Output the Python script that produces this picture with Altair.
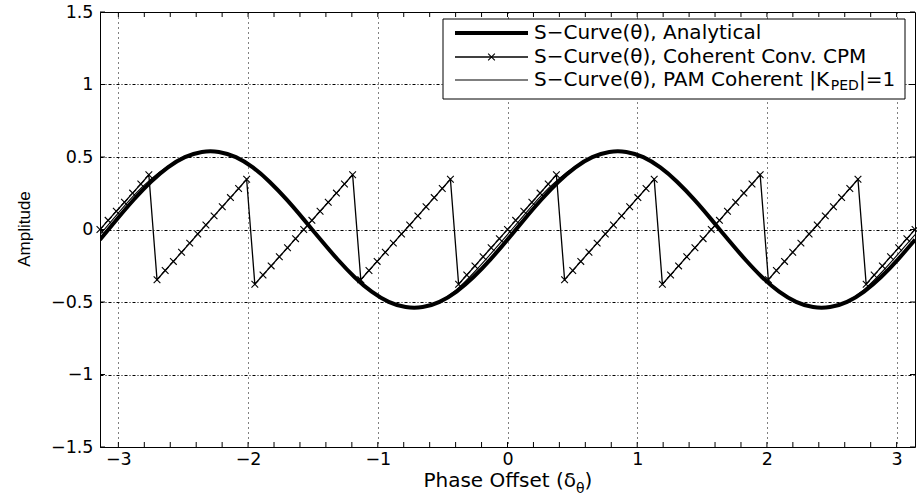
import altair as alt
import pandas as pd

# ---------------- data ----------------
ana_x = [-3.142, -3.011, -2.880, -2.749, -2.618, -2.487, -2.356, -2.225, -2.094, -1.963,
         -1.833, -1.702, -1.571, -1.440, -1.309, -1.178, -1.047, -0.916, -0.785, -0.654,
         -0.524, -0.393, -0.262, -0.131, 0.000, 0.131, 0.262, 0.393, 0.524, 0.654,
         0.785, 0.916, 1.047, 1.178, 1.309, 1.440, 1.571, 1.702, 1.833, 1.963,
         2.094, 2.225, 2.356, 2.487, 2.618, 2.749, 2.880, 3.011, 3.142]
ana_y = [-0.070, 0.071, 0.207, 0.329, 0.429, 0.499, 0.535, 0.535, 0.499, 0.428,
         0.328, 0.206, 0.070, -0.071, -0.207, -0.329, -0.429, -0.499, -0.535, -0.535,
         -0.499, -0.428, -0.328, -0.206, -0.070, 0.071, 0.207, 0.329, 0.429, 0.499,
         0.535, 0.535, 0.499, 0.428, 0.328, 0.206, 0.070, -0.071, -0.207, -0.329,
         -0.429, -0.499, -0.535, -0.535, -0.499, -0.428, -0.328, -0.206, -0.070]
pam_y = [-0.035, 0.103, 0.236, 0.347, 0.436, 0.499, 0.535, 0.535, 0.499, 0.428,
         0.328, 0.206, 0.070, -0.071, -0.207, -0.329, -0.429, -0.499, -0.535, -0.535,
         -0.495, -0.415, -0.300, -0.170, -0.035, 0.103, 0.236, 0.347, 0.436, 0.499,
         0.535, 0.535, 0.499, 0.428, 0.328, 0.206, 0.070, -0.071, -0.207, -0.329,
         -0.429, -0.499, -0.535, -0.535, -0.495, -0.415, -0.300, -0.170, -0.035]

cpm_x = [-3.142, -3.079, -3.016, -2.953, -2.890, -2.827, -2.765, -2.702, -2.639, -2.576,
         -2.513, -2.450, -2.388, -2.325, -2.262, -2.199, -2.136, -2.073, -2.011, -1.948,
         -1.885, -1.822, -1.759, -1.696, -1.634, -1.571, -1.508, -1.445, -1.382, -1.319,
         -1.257, -1.194, -1.131, -1.068, -1.005, -0.942, -0.880, -0.817, -0.754, -0.691,
         -0.628, -0.565, -0.503, -0.440, -0.377, -0.314, -0.251, -0.188, -0.126, -0.063,
         0.000, 0.063, 0.126, 0.188, 0.251, 0.314, 0.377, 0.440, 0.503, 0.565,
         0.628, 0.691, 0.754, 0.817, 0.880, 0.942, 1.005, 1.068, 1.131, 1.194,
         1.257, 1.319, 1.382, 1.445, 1.508, 1.571, 1.634, 1.696, 1.759, 1.822,
         1.885, 1.948, 2.011, 2.073, 2.136, 2.199, 2.262, 2.325, 2.388, 2.450,
         2.513, 2.576, 2.639, 2.702, 2.765, 2.827, 2.890, 2.953, 3.016, 3.079,
         3.142]
cpm_y = [0.000, 0.063, 0.126, 0.188, 0.251, 0.314, 0.377,
         -0.346, -0.283, -0.220, -0.157, -0.094, -0.031, 0.031, 0.094, 0.157, 0.220, 0.283, 0.346,
         -0.377, -0.314, -0.251, -0.188, -0.126, -0.063, 0.000, 0.063, 0.126, 0.188, 0.251, 0.314, 0.377,
         -0.346, -0.283, -0.220, -0.157, -0.094, -0.031, 0.031, 0.094, 0.157, 0.220, 0.283, 0.346,
         -0.377, -0.314, -0.251, -0.188, -0.126, -0.063, 0.000, 0.063, 0.126, 0.188, 0.251, 0.314, 0.377,
         -0.346, -0.283, -0.220, -0.157, -0.094, -0.031, 0.031, 0.094, 0.157, 0.220, 0.283, 0.346,
         -0.377, -0.314, -0.251, -0.188, -0.126, -0.063, 0.000, 0.063, 0.126, 0.188, 0.251, 0.314, 0.377,
         -0.346, -0.283, -0.220, -0.157, -0.094, -0.031, 0.031, 0.094, 0.157, 0.220, 0.283, 0.346,
         -0.377, -0.314, -0.251, -0.188, -0.126, -0.063, 0.000]

x_ticks = [-3, -2, -1, 0, 1, 2, 3]
y_ticks = [-1.5, -1, -0.5, 0, 0.5, 1, 1.5]
x_minor = [-3.0, -2.8, -2.6, -2.4, -2.2, -2.0, -1.8, -1.6, -1.4, -1.2, -1.0, -0.8, -0.6,
           -0.4, -0.2, 0.0, 0.2, 0.4, 0.6, 0.8, 1.0, 1.2, 1.4, 1.6, 1.8, 2.0, 2.2, 2.4,
           2.6, 2.8, 3.0]
legend_labels = ["S\u2212Curve(\u03b8), Analytical",
                 "S\u2212Curve(\u03b8), Coherent Conv. CPM",
                 "S\u2212Curve(\u03b8), PAM Coherent |K"]
legend_sub = "PED"
legend_tail = "|=1"
x_title = "Phase Offset (\u03b4"
x_title_sub = "\u03b8"
y_title = "Amplitude"

# ---------------- layout / style ----------------
W, H = 815, 435
FONT = "DejaVu Sans"
BLACK = "#000000"

xs = alt.Scale(domain=[-3.1416, 3.1416], nice=False, zero=False)
ys = alt.Scale(domain=[-1.5, 1.5], nice=False, zero=False)

df_ana = pd.DataFrame({"x": ana_x, "y": ana_y})
df_pam = pd.DataFrame({"x": ana_x, "y": pam_y})
df_cpm = pd.DataFrame({"x": cpm_x, "y": cpm_y})
df_xt = pd.DataFrame({"x": x_minor})
df_yt = pd.DataFrame({"y": y_ticks})
one = pd.DataFrame({"d": [0]})

x_axis = alt.Axis(values=x_ticks, format="~g", grid=True, gridDash=[1, 4], gridColor=BLACK,
                  gridWidth=1, ticks=False, domain=False, labelFont=FONT, labelFontSize=17.5,
                  labelColor=BLACK, labelPadding=3, labelFlush=False, title=None)
y_axis = alt.Axis(values=y_ticks, format="~g", grid=True, gridDash=[3, 2, 1, 2], gridColor=BLACK,
                  gridWidth=1, ticks=False, domain=False, labelFont=FONT, labelFontSize=17.5,
                  labelColor=BLACK, labelPadding=7, labelFlush=False, title=None)

X = alt.X("x:Q", scale=xs, axis=x_axis)
Y = alt.Y("y:Q", scale=ys, axis=y_axis)

analytic = alt.Chart(df_ana).mark_line(color=BLACK, strokeWidth=4, interpolate="natural", clip=True).encode(
    x=X, y=Y)

pam = alt.Chart(df_pam).mark_line(color=BLACK, strokeWidth=1.1, interpolate="natural", clip=True).encode(
    x=X, y=Y)

cpm_line = alt.Chart(df_cpm).mark_line(color=BLACK, strokeWidth=1.3, clip=True).encode(x=X, y=Y)

XSHAPE = "M-1,-1L1,1M-1,1L1,-1"
cpm_pts = alt.Chart(df_cpm).mark_point(shape=XSHAPE, size=45, filled=False, color=BLACK,
                                        strokeWidth=1.1, opacity=1).encode(x=X, y=Y)

# inward ticks (MATLAB style)
xt_top = alt.Chart(df_xt).mark_rule(color=BLACK, strokeWidth=1).encode(
    x=X, y=alt.value(0), y2=alt.value(5))
xt_bot = alt.Chart(df_xt).mark_rule(color=BLACK, strokeWidth=1).encode(
    x=X, y=alt.value(H - 5), y2=alt.value(H))
yt_left = alt.Chart(df_yt).mark_rule(color=BLACK, strokeWidth=1).encode(
    y=Y, x=alt.value(0), x2=alt.value(5))
yt_right = alt.Chart(df_yt).mark_rule(color=BLACK, strokeWidth=1).encode(
    y=Y, x=alt.value(W - 5), x2=alt.value(W))

# legend (manual, in pixel space of the plot area)
LX0, LX1 = 343, 805
LY0, LY1 = 7, 87
SX0, SX1 = 355, 428
ROWS = [21, 45, 68]
TX = 434
LFS = 20

leg_box = alt.Chart(one).mark_rect(fill="white", stroke=BLACK, strokeWidth=1).encode(
    x=alt.value(LX0), x2=alt.value(LX1), y=alt.value(LY0), y2=alt.value(LY1))
leg_l1 = alt.Chart(one).mark_rule(color=BLACK, strokeWidth=4).encode(
    x=alt.value(SX0), x2=alt.value(SX1), y=alt.value(ROWS[0]))
leg_l2 = alt.Chart(one).mark_rule(color=BLACK, strokeWidth=1.3).encode(
    x=alt.value(SX0), x2=alt.value(SX1), y=alt.value(ROWS[1]))
leg_m2 = alt.Chart(one).mark_point(shape=XSHAPE, size=45, filled=False, color=BLACK,
                                   strokeWidth=1.1, opacity=1).encode(
    x=alt.value((SX0 + SX1) / 2), y=alt.value(ROWS[1]))
leg_l3 = alt.Chart(one).mark_rule(color=BLACK, strokeWidth=1.1).encode(
    x=alt.value(SX0), x2=alt.value(SX1), y=alt.value(ROWS[2]))

def ltext(txt, x, y, size=LFS, align="left", baseline="middle", font=FONT, angle=0):
    return alt.Chart(one).mark_text(text=txt, font=font, fontSize=size, color=BLACK,
                                    align=align, baseline=baseline, angle=angle).encode(
        x=alt.value(x), y=alt.value(y))

t1 = ltext(legend_labels[0], TX, ROWS[0])
t2 = ltext(legend_labels[1], TX, ROWS[1])
t3 = ltext(legend_labels[2], TX, ROWS[2])
t3_end = TX + 14.841 * LFS
t3s = ltext(legend_sub, t3_end, ROWS[2] + 6, size=14)
t3t = ltext(legend_tail, t3_end + 2.005 * 14, ROWS[2])

# axis titles
XT_END = 476
xt_main = ltext(x_title, XT_END, 475, size=20, align="right", baseline="alphabetic")
xt_sub = ltext(x_title_sub, XT_END, 481, size=14, align="left", baseline="alphabetic")
xt_par = ltext(")", XT_END + 8.6, 475, size=20, align="left", baseline="alphabetic")
yt = ltext(y_title, -70, 217, size=17, align="center", baseline="alphabetic",
           font="Liberation Sans", angle=270)

chart = alt.layer(
    analytic, cpm_line, cpm_pts, pam,
    xt_top, xt_bot, yt_left, yt_right,
    leg_box, leg_l1, leg_l2, leg_m2, leg_l3, t1, t2, t3, t3s, t3t,
    xt_main, xt_sub, xt_par, yt,
).properties(
    width=W, height=H,
    autosize=alt.AutoSizeParams(type="none"),
    padding={"left": 100, "top": 12, "right": 2, "bottom": 48},
    background="white",
).configure_view(stroke=BLACK, strokeWidth=1)

chart.save("out.html", embed_options={"renderer": "svg", "actions": False})
